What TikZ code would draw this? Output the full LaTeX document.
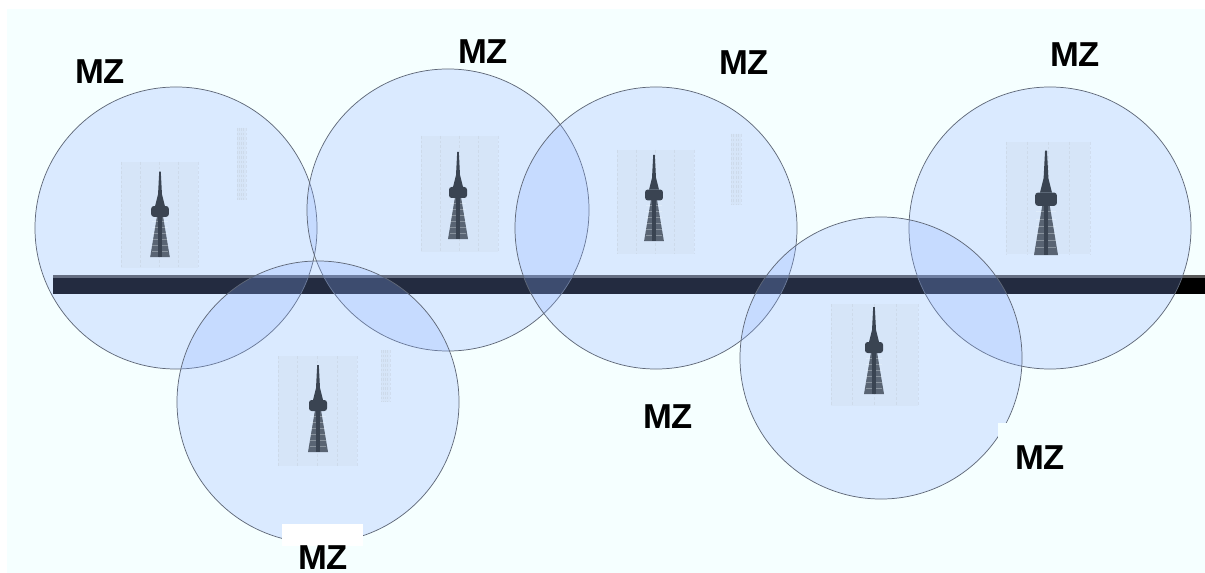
\documentclass[tikz,border=0pt]{standalone}
\usepackage{fontspec}
\setmainfont{Liberation Sans}
\definecolor{skybg}{HTML}{F5FFFF}
\definecolor{zonefill}{RGB}{140,175,255}
\definecolor{zoneline}{HTML}{5F6878}
\definecolor{towercol}{HTML}{3A4452}
\definecolor{patchcol}{HTML}{B4BAC2}
\tikzset{
    zone/.style={draw=zoneline, line width=0.55pt, fill=zonefill, fill opacity=0.25},
    mzlabel/.style={font=\fontsize{26}{26}\selectfont\bfseries, text=black, inner sep=0pt},
    patch/.style={draw=none, fill=patchcol, opacity=0.10},
    stripe/.style={patchcol, line width=0.7pt, dash pattern=on 2pt off 1.5pt, opacity=0.25},
    pics/tower/.style={code={
        \fill[towercol, opacity=0.8] (-10,0) -- (-3,-42) -- (3,-42) -- (10,0) -- cycle;
        \foreach \h in {-6,-12,...,-36}
            \draw[skybg, opacity=0.3, line width=0.6pt] (-8,\h) -- (8,\h);
        \fill[towercol] (-1.8,0) rectangle (1.8,-44);
        \fill[towercol, rounded corners=2pt] (-9,-41) rectangle (9,-52);
        \fill[towercol] (-5,-52) -- (-2,-64) -- (-0.8,-87) -- (0.8,-87) -- (2,-64) -- (5,-52) -- cycle;
    }}
}
\begin{document}
\begin{tikzpicture}[x=0.0264cm, y=-0.0264cm]
    \useasboundingbox (0,0) rectangle (1205,573);
    \clip (0,0) rectangle (1205,573);
    \fill[white] (0,0) rectangle (1205,573);
    \fill[skybg] (7,9) rectangle (1205,573);
    % road
    \fill[black] (53,276) rectangle (1205,294);
    \fill[black!65] (53,275) rectangle (1205,278);
    % zones
    \foreach \name/\cx/\cy in {a/176/228, b/448/210, c/656/228, d/1050/228, e/318/402, f/881/358}
        \node[zone, circle, minimum size=7.445cm, inner sep=0pt] (zone\name) at (\cx,\cy) {};
    % grey patches behind the towers
    \foreach \xa/\ya/\xb/\yb in {121/162/198/268, 421/136/498/252, 617/150/694/254, 1006/142/1090/254, 278/356/357/466, 831/304/918/406,
                                 237/128/246/200, 381/350/390/402, 731/134/741/205}{
        \fill[patch] (\xa,\ya) rectangle (\xb,\yb);
        \foreach \s in {0,0.25,0.5,0.75,1}
            \draw[stripe] ({\xa+\s*(\xb-\xa)},\ya) -- ({\xa+\s*(\xb-\xa)},\yb);
    }
    % towers
    \pic[scale=0.98] at (160,257) {tower};
    \pic[scale=1.0] at (458,239) {tower};
    \pic[scale=0.99] at (654,241) {tower};
    \pic[scale=1.2] at (1046,255) {tower};
    \pic[scale=1.0] at (318,452) {tower};
    \pic[scale=1.0] at (874,394) {tower};
    % white scraps left around two labels
    \fill[white] (282,524) rectangle (363,546);
    \fill[skybg] (282,546) rectangle (363,573);
    \fill[skybg] (998,423) rectangle (1040,440);
    \fill[skybg] (1000,440) rectangle (1080,480);
    % labels
    \node[mzlabel] (mza) at (100,72) {MZ};
    \node[mzlabel] (mzb) at (483,52) {MZ};
    \node[mzlabel] (mzc) at (744,63) {MZ};
    \node[mzlabel] (mzd) at (1075,55) {MZ};
    \node[mzlabel] (mze) at (668,417) {MZ};
    \node[mzlabel] (mzf) at (1040,458) {MZ};
    \node[mzlabel] (mzg) at (323,558) {MZ};
\end{tikzpicture}
\end{document}
